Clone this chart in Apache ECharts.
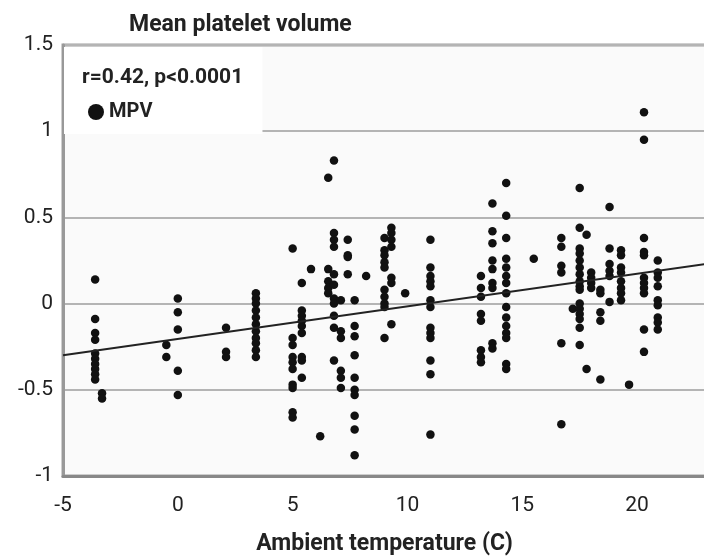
<!DOCTYPE html>
<html>
<head>
<meta charset="utf-8">
<script src="https://cdn.jsdelivr.net/npm/echarts@6/dist/echarts.min.js"></script>
<style>
  html, body { margin: 0; padding: 0; background: #fff; }
  #chart { width: 704px; height: 557px; }
</style>
</head>
<body>
<div id="chart"></div>
<script>
// temperature of each column of points, and the MPV values in that column
var temps = [-3.6, -3.3, -0.5, 0, 2.1, 3.4, 5.0, 5.4, 5.8, 6.2, 6.55, 6.8, 7.1, 7.4, 7.7, 8.2,
             9.0, 9.3, 9.9, 11.0, 13.2, 13.7, 14.3, 15.5, 16.7, 17.2, 17.5, 17.8, 18.0, 18.4,
             18.8, 19.3, 19.65, 20.3, 20.9];
var mpvByTemp = [
  [0.14, -0.09, -0.17, -0.21, -0.29, -0.32, -0.35, -0.38, -0.41, -0.44],
  [-0.52, -0.55],
  [-0.24, -0.31],
  [0.03, -0.05, -0.15, -0.39, -0.53],
  [-0.14, -0.28, -0.31],
  [0.06, 0.03, 0, -0.04, -0.08, -0.12, -0.16, -0.2, -0.23, -0.27, -0.31],
  [0.32, -0.2, -0.24, -0.31, -0.34, -0.38, -0.47, -0.49, -0.63, -0.66],
  [0.12, -0.04, -0.07, -0.1, -0.13, -0.17, -0.31, -0.33, -0.43],
  [0.2],
  [-0.77],
  [0.73, 0.2, 0.13, 0.09, 0.06],
  [0.83, 0.41, 0.37, 0.33, 0.17, 0.11, 0.03, 0.0, -0.07, -0.14, -0.33],
  [0.02, -0.16, -0.2, -0.39, -0.43, -0.49],
  [0.37, 0.28, 0.27, 0.17],
  [0.02, -0.13, -0.19, -0.30, -0.43, -0.50, -0.53, -0.65, -0.73, -0.88],
  [0.16],
  [0.38, 0.31, 0.28, 0.24, 0.21, 0.08, 0.04, 0.0, -0.02, -0.2],
  [0.44, 0.41, 0.37, 0.33, 0.15, 0.12, -0.12],
  [0.06],
  [0.37, 0.21, 0.16, 0.13, 0.1, 0.02, -0.02, -0.14, -0.17, -0.2, -0.33, -0.41, -0.76],
  [0.16, 0.09, 0.04, -0.06, -0.1, -0.27, -0.31, -0.34],
  [0.58, 0.42, 0.35, 0.25, 0.2, 0.12, 0.09, -0.23, -0.26],
  [0.70, 0.51, 0.38, 0.26, 0.21, 0.16, 0.12, 0.06, -0.02, -0.08, -0.13, -0.17, -0.2, -0.35, -0.38],
  [0.26],
  [0.38, 0.33, 0.22, 0.18, -0.23, -0.7],
  [-0.03],
  [0.67, 0.44, 0.32, 0.29, 0.25, 0.21, 0.17, 0.13, 0.1, 0.08, 0, -0.03, -0.06, -0.09, -0.14, -0.24],
  [0.4, -0.38],
  [0.18, 0.15, 0.12, 0.09],
  [0.08, 0.06, -0.05, -0.1, -0.44],
  [0.56, 0.32, 0.23, 0.19, 0.16, 0.01],
  [0.31, 0.28, 0.21, 0.18, 0.13, 0.09, 0.06, 0.02],
  [-0.47],
  [1.11, 0.95, 0.38, 0.30, 0.28, 0.15, 0.12, 0.09, 0.06, -0.15, -0.28],
  [0.25, 0.18, 0.15, 0.1, 0.02, -0.01, -0.08, -0.11, -0.15]
];
// regression line end points
var fitX = [-5, 23];
var fitY = [-0.30, 0.23];

var xTicks = { min: -5, max: 23, step: 5 };
var yTicks = { min: -1, max: 1.5, step: 0.5 };

var font = "Roboto, 'Noto Sans', sans-serif";

var points = [];
temps.forEach(function (t, i) {
  mpvByTemp[i].forEach(function (v) { points.push([t, v]); });
});

var chart = echarts.init(document.getElementById('chart'));
chart.setOption({
  backgroundColor: '#fff',
  animation: false,
  textStyle: { fontFamily: font },
  title: [
    { text: 'Mean platelet volume', left: 129, top: 14, padding: 0,
      textStyle: { fontFamily: font, fontSize: 23, fontWeight: 'bold', color: '#222' } },
    { text: 'r=0.42, p<0.0001', left: 82, top: 67, padding: 0,
      textStyle: { fontFamily: font, fontSize: 21, fontWeight: 'bold', color: '#222' } }
  ],
  legend: {
    data: ['MPV'],
    left: 64, top: 47,
    padding: [55, 110, 12, 24],
    backgroundColor: '#fff',
    icon: 'circle', itemWidth: 16, itemHeight: 16, itemGap: 4,
    textStyle: { fontFamily: font, fontSize: 20, fontWeight: 'bold', color: '#222' }
  },
  grid: {
    left: 63, right: -2, top: 45, bottom: 81, outerBoundsMode: 'none',
    show: true, backgroundColor: '#fafafa', borderColor: '#a0a0a0', borderWidth: 3
  },
  xAxis: {
    type: 'value', min: xTicks.min, max: xTicks.max, interval: xTicks.step,
    name: 'Ambient temperature (C)', nameLocation: 'middle', nameGap: 57,
    nameTextStyle: { fontFamily: font, fontSize: 23, fontWeight: 'bold', color: '#222' },
    axisLine: { show: true, onZero: false, lineStyle: { color: '#888', width: 3 } },
    axisTick: { show: false },
    axisLabel: { fontSize: 21, color: '#222', margin: 19, fontFamily: font, showMaxLabel: false },
    splitLine: { show: false }
  },
  yAxis: {
    type: 'value', min: yTicks.min, max: yTicks.max, interval: yTicks.step,
    axisLine: { show: true, onZero: false, lineStyle: { color: '#999', width: 3 } },
    axisTick: { show: false },
    axisLabel: { fontSize: 21, color: '#222', margin: 10, fontFamily: font },
    splitLine: { show: true, lineStyle: { color: '#b4b4b4', width: 2 } }
  },
  series: [
    {
      name: 'MPV', type: 'scatter', data: points,
      symbol: 'circle', symbolSize: 8.5,
      itemStyle: { color: '#111', opacity: 1 }
    },
    {
      name: 'fit', type: 'line', data: fitX.map(function (x, i) { return [x, fitY[i]]; }),
      symbol: 'none', lineStyle: { color: '#222', width: 2 }, z: 3
    }
  ]
});
</script>
</body>
</html>
